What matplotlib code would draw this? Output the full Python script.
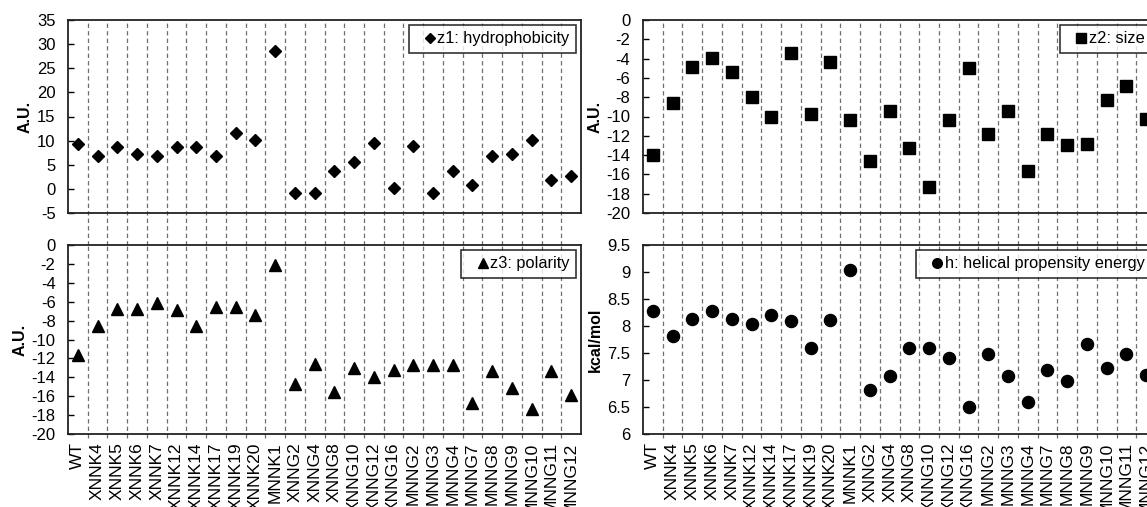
import matplotlib
matplotlib.use('Agg')
import matplotlib.pyplot as plt

plt.rcParams['font.family'] = ['Liberation Sans', 'DejaVu Sans']
plt.rcParams['font.size'] = 12

variants = ['WT', 'XNNK4', 'XNNK5', 'XNNK6', 'XNNK7', 'XNNK12', 'XNNK14', 'XNNK17',
            'XNNK19', 'XNNK20', 'MNNK1', 'XNNG2', 'XNNG4', 'XNNG8', 'XNNG10', 'XNNG12',
            'XNNG16', 'MNNG2', 'MNNG3', 'MNNG4', 'MNNG7', 'MNNG8', 'MNNG9', 'MNNG10',
            'MNNG11', 'MNNG12']

z1 = [9.3, 6.9, 8.7, 7.2, 6.9, 8.7, 8.6, 6.8, 11.5, 10.2, 28.6, -0.8, -0.8, 3.7,
      5.5, 9.5, 0.2, 8.8, -0.8, 3.7, 0.7, 6.8, 7.2, 10.1, 1.9, 2.7]

z2 = [-14.0, -8.6, -4.9, -3.9, -5.4, -8.0, -10.0, -3.4, -9.7, -4.4, -10.4, -14.6,
      -9.4, -13.3, -17.3, -10.4, -5.0, -11.8, -9.4, -15.6, -11.8, -13.0, -12.9,
      -8.3, -6.8, -10.3]

z3 = [-11.6, -8.6, -6.8, -6.8, -6.1, -6.9, -8.6, -6.6, -6.6, -7.4, -2.15, -14.7,
      -12.6, -15.6, -13.0, -14.0, -13.2, -12.7, -12.7, -12.7, -16.7, -13.3, -15.1,
      -17.4, -13.3, -15.9]

h = [8.27, 7.81, 8.13, 8.28, 8.13, 8.04, 8.20, 8.10, 7.60, 8.11, 9.03, 6.81,
     7.08, 7.60, 7.60, 7.40, 6.50, 7.48, 7.08, 6.59, 7.19, 6.99, 7.67, 7.22,
     7.48, 7.10]

W, H = 1147, 507
fig = plt.figure(figsize=(W / 100, H / 100), dpi=100)


def px_axes(left, top, right, bottom):
    return fig.add_axes([left / W, (H - bottom) / H, (right - left) / W, (bottom - top) / H])


panels = [
    # (box, values, marker, size, label, ylim, yticks, ylabel, bottom row)
    ((68, 20, 581, 213), z1, 'D', 6.3, 'z1: hydrophobicity', (-5, 35), range(-5, 36, 5), 'A.U.', False),
    ((643, 20, 1156, 213), z2, 's', 9, 'z2: size', (-20, 0), range(-20, 1, 2), 'A.U.', False),
    ((68, 245, 581, 434), z3, '^', 9, 'z3: polarity', (-20, 0), range(-20, 1, 2), 'A.U.', True),
    ((643, 245, 1156, 434), h, 'o', 8.7, 'h: helical propensity energy', (6, 9.5),
     [6, 6.5, 7, 7.5, 8, 8.5, 9, 9.5], 'kcal/mol', True),
]

x = list(range(len(variants)))
for box, vals, mk, ms, label, ylim, yticks, ylabel, bottom_row in panels:
    ax = px_axes(*box)
    ax.plot(x, vals, linestyle='none', marker=mk, markersize=ms, color='black', label=label)
    ax.set_xlim(-0.5, len(variants) - 0.5)
    ax.set_ylim(*ylim)
    ax.set_yticks(list(yticks))
    ax.set_yticklabels(['%g' % t for t in yticks])
    ax.set_ylabel(ylabel, fontweight='bold', fontsize=11.5, labelpad=3)
    ax.tick_params(axis='y', direction='in', length=4, width=1, pad=9, labelsize=12)
    ax.tick_params(axis='x', length=0, pad=6)
    for s in ax.spines.values():
        s.set_linewidth(1.3)
        s.set_color('#222222')

    # dashed separators between categories, running through the gap below the top row
    ymin = -0.02 if bottom_row else -32 / 193
    for b in range(len(variants) - 1):
        ax.axvline(b + 0.5, ymin=ymin, ymax=1, color='#6f6f6f', linestyle=(0, (3.5, 2.5)),
                   linewidth=0.9, clip_on=False, zorder=0)

    ax.set_xticks(x)
    if bottom_row:
        ax.set_xticklabels(variants, rotation=90, fontsize=12.5)
    else:
        ax.set_xticklabels([])

    leg = ax.legend(loc='upper right', frameon=True, fancybox=False, handlelength=1.8,
                    handletextpad=-0.45, borderaxespad=0.3, markerscale=0.8,
                    borderpad=0.4, fontsize=11.8)
    leg.get_frame().set_edgecolor('black')
    leg.get_frame().set_linewidth(1.2)

fig.savefig('out.png', dpi=100)
